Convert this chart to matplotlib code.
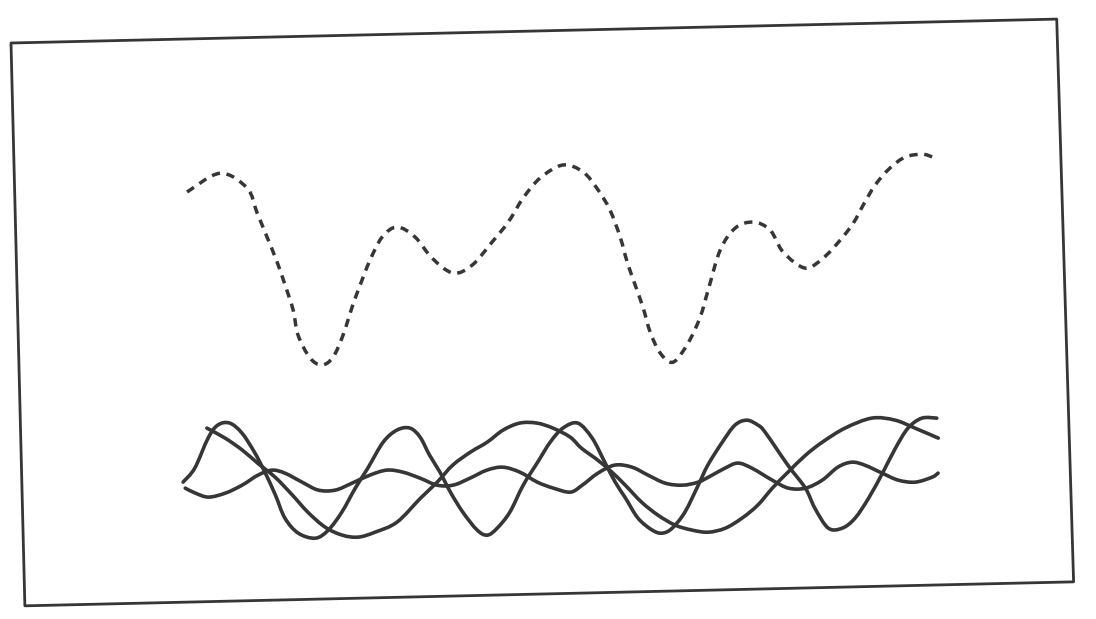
"""Scanned wave-superposition sketch: dashed resultant above, three component waves below."""

import matplotlib
matplotlib.use("Agg")
import matplotlib.pyplot as plt
from matplotlib.patches import PathPatch, Polygon
from matplotlib.path import Path
from matplotlib.transforms import Affine2D

# frame size in scan units (width along the box, height up from its bottom edge)
FRAME_W, FRAME_H = 1046, 563

# dashed resultant curve
sum_x = [172.6, 206, 232.7, 242, 251.6, 261, 268.5, 276, 280.3, 291.8, 303.6, 314.8,
         325.3, 335, 343.5, 354, 366.6, 381.8, 399.6, 416, 436.7, 456, 476.4, 493,
         508.5, 526, 549, 569, 583.6, 595, 604.6, 611, 618.5, 626, 632.4, 642, 654.7,
         670, 682.7, 691.3, 704.3, 719.8, 738, 754.7, 767.2, 788.8, 807, 824.5, 838,
         848.3, 860.7, 876, 891.4, 908.5, 918.4]
sum_y = [410, 428, 412.6, 388, 363, 338, 314.7, 289.5, 264.4, 241.2, 234, 241.6,
         263.4, 291.2, 313, 337.8, 360.5, 370.2, 359.7, 338.4, 322.9, 330.4, 353, 372.6,
         396.3, 416, 428.4, 421, 402.6, 382.3, 355, 330, 306.7, 283.5, 259.4, 238.1, 228.8,
         247.5, 273.2, 300, 339.8, 361.4, 367, 358.6, 336.3, 319.8, 329.4, 347, 363.7,
         381.5, 401.2, 418, 428.5, 431, 428]

# component 1: large amplitude, short period
wave1_x = [162, 174, 188, 198, 210, 222, 234, 244, 254, 263, 276, 293, 306, 320, 334,
           347, 363, 377, 390, 400, 409, 419, 429, 441, 455, 465, 475, 488, 502, 517,
           530, 543, 558, 572, 584, 594, 604, 616, 630, 640, 650, 663, 677, 687, 702,
           715, 727, 738, 745, 767, 784, 793, 806, 820, 833, 847, 862, 875, 888, 902, 917]
wave1_y = [120.1, 133.8, 163.5, 176.3, 178, 167.7, 148.4, 128.2, 105, 81.7, 66.4, 61,
           68.7, 86.4, 110.1, 129.8, 155.5, 167.2, 168.9, 159.6, 141.4, 124.2, 104, 83.6,
           65.3, 60.1, 66.9, 82.6, 109.3, 132, 151.7, 165.4, 170, 154.7, 130.4, 110.2,
           93.9, 73.6, 61.3, 58.1, 62.9, 78.6, 105.3, 125.1, 147.7, 164.4, 169.1, 163.9,
           156.7, 123.2, 99.8, 79.6, 59.3, 59, 68.7, 88.4, 114.1, 137.8, 157.5, 167.1, 166.8]

# component 2: medium amplitude, long period
wave2_x = [187, 205, 222, 237, 254, 271, 286, 303, 320, 336, 353, 375, 399, 416, 432,
           450, 467, 483, 500, 517, 533, 550, 561, 577, 591, 604, 620, 636, 653, 670,
           686, 703, 720, 736, 751, 767, 785, 802, 825, 852, 875, 895, 918]
wave2_y = [173.5, 163.1, 150.7, 137.3, 123, 104.6, 87.2, 71.8, 63.4, 61.1, 65.7, 75.2,
           98.6, 114.2, 130.9, 143.5, 153.1, 164.7, 171.4, 171, 165.6, 156.2, 144.9, 132.6,
           120.2, 106.9, 89.5, 76.2, 65.8, 60.4, 58, 61.6, 71.3, 83.9, 100.6, 116.2, 132.8,
           145.4, 158.9, 168.3, 165.8, 157.3, 146.8]

# component 3: small amplitude
wave3_x = [164, 174, 187, 204, 221, 237, 251, 264, 281, 297, 314, 331, 349, 366, 382,
           399, 416, 432, 449, 466, 482, 499, 516, 532, 549, 561, 577, 594, 611, 627,
           644, 661, 677, 691, 704, 717, 731, 751, 767, 784, 801, 817, 831, 844, 861,
           877, 894, 911, 917]
wave3_y = [114, 108.8, 104.5, 108.1, 115.7, 125.3, 130, 126.7, 117.3, 109, 108.6, 115.2,
           122.8, 127.4, 125, 118.6, 111.2, 110.9, 117.5, 125.1, 127.7, 122.3, 112, 105.6,
           101.2, 107.9, 119.6, 127.2, 124.8, 116.4, 108, 105.6, 108.3, 114.9, 121.6, 126.4,
           121, 108.6, 100.2, 99.8, 107.4, 120.1, 124.7, 121.4, 113.1, 105.7, 103.3, 107.9,
           111.8]

INK = "#363636"


def smooth_path(xs, ys):
    """Bezier path through every point (Catmull-Rom tangents), no extra data points."""
    pts = list(zip(xs, ys))
    n = len(pts)
    verts = [pts[0]]
    codes = [Path.MOVETO]
    for i in range(n - 1):
        p0 = pts[max(i - 1, 0)]
        p1 = pts[i]
        p2 = pts[i + 1]
        p3 = pts[min(i + 2, n - 1)]
        c1 = (p1[0] + (p2[0] - p0[0]) / 6, p1[1] + (p2[1] - p0[1]) / 6)
        c2 = (p2[0] - (p3[0] - p1[0]) / 6, p2[1] - (p3[1] - p1[1]) / 6)
        verts += [c1, c2, p2]
        codes += [Path.CURVE4] * 3
    return Path(verts, codes)


fig = plt.figure(figsize=(10.96, 6.19), dpi=100)
ax = fig.add_axes([0, 0, 1, 1])
ax.set_xlim(0, 1096)
ax.set_ylim(619, 0)
ax.axis("off")

# the scanned page is slightly tilted: flip y up, rotate, shift to the box corner
tilt = Affine2D().scale(1, -1).translate(0, FRAME_H).rotate_deg(-1.31).translate(11, 43)
tr = tilt + ax.transData

# box is a touch wider at the bottom on the scan
frame = Polygon([(0, FRAME_H), (FRAME_W, FRAME_H), (FRAME_W + 4, 0), (1, 0)],
                closed=True, fill=False, ec=INK, lw=2.0, joinstyle="round",
                transform=tr)
ax.add_patch(frame)

ax.add_patch(PathPatch(smooth_path(sum_x, sum_y), fill=False, ec=INK, lw=2.5,
                       linestyle=(0, (2.4, 1.9)), transform=tr))

for xs, ys in [(wave1_x, wave1_y), (wave2_x, wave2_y), (wave3_x, wave3_y)]:
    ax.add_patch(PathPatch(smooth_path(xs, ys), fill=False, ec=INK, lw=2.6,
                           capstyle="round", joinstyle="round", transform=tr))

fig.savefig("out.png", dpi=100, facecolor="white")
